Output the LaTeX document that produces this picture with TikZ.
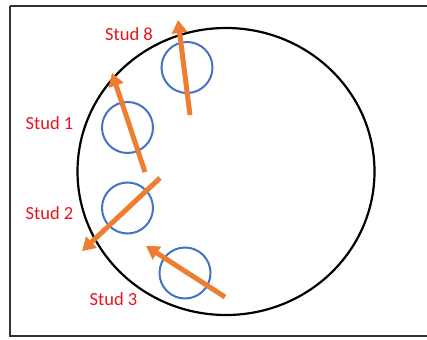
\documentclass[tikz,border=0pt]{standalone}
\usepackage{fontspec}
\setmainfont{Carlito}
\usetikzlibrary{arrows.meta,shapes.geometric}
\definecolor{studred}{HTML}{E8141B}
\definecolor{studorange}{HTML}{ED7D31}
\definecolor{studblue}{HTML}{4472C4}
\tikzset{
  studlabel/.style={text=studred, font=\fontsize{18.5pt}{20pt}\selectfont, inner sep=0pt},
  studring/.style={draw=studblue, line width=2pt, circle, minimum size=51pt, inner sep=0pt},
  forcearrow/.style={draw=studorange, line width=5pt, -{Triangle[width=15pt,length=13pt]}},
}
\begin{document}
\begin{tikzpicture}[x=1pt,y=-1pt]
\useasboundingbox (0,0) rectangle (427,339);
% frame
\draw[line width=1.6pt, draw=black!80] (10,6) -- (440,6);
\draw[line width=1.6pt, draw=black!80] (10,6) -- (10,336) -- (440,336);
% big circle
\node (big) [draw=black, line width=2.2pt, ellipse, minimum width=297pt, minimum height=287pt, inner sep=0pt] at (226,171.5) {};
% stud rings
\node (r8) [studring] at (187,67.5) {};
\node (r1) [studring] at (127.5,127.5) {};
\node (r2) [studring] at (127.5,208) {};
\node (r3) [studring] at (185,273) {};
% arrow ends
\coordinate (a8s) at (190,115);
\coordinate (a8e) at (178,20);
\coordinate (a1s) at (145,172);
\coordinate (a1e) at (112,73);
\coordinate (a2s) at (160,178);
\coordinate (a2e) at (82,251);
\coordinate (a3s) at (225,297);
\coordinate (a3e) at (146,246);
\draw[forcearrow] (a8s) -- (a8e);
\draw[forcearrow] (a1s) -- (a1e);
\draw[forcearrow] (a2s) -- (a2e);
\draw[forcearrow] (a3s) -- (a3e);
% labels
\node (l8) [studlabel] at (129,34) {Stud 8};
\node (l1) [studlabel] at (49.5,123) {Stud 1};
\node (l2) [studlabel] at (49.5,213) {Stud 2};
\node (l3) [studlabel] at (113.5,299) {Stud 3};
\end{tikzpicture}
\end{document}
